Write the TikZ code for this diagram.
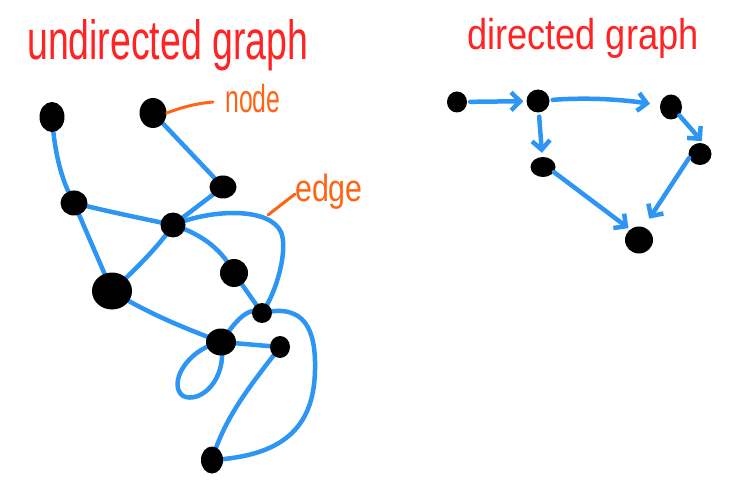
\documentclass[tikz,border=0pt]{standalone}
\usepackage{graphicx}
\usepackage{fontspec}
\setmainfont{Liberation Sans}
\usetikzlibrary{shapes.geometric,arrows.meta,backgrounds}
\definecolor{ered}{RGB}{255,35,35}
\definecolor{eorange}{RGB}{255,100,20}
\definecolor{eblue}{RGB}{45,150,245}
\begin{document}
\begin{tikzpicture}[x=1pt,y=-1pt,
  dot/.style={ellipse,fill=black,inner sep=0pt},
  edgeline/.style={draw=eblue,line width=4.5pt,line cap=round,line join=round},
  arc/.style={edgeline,-{Straight Barb[length=9pt,width=18pt]}},
  callout/.style={draw=eorange,line width=3pt,line cap=round},
  titletext/.style={text=ered,anchor=base west,inner sep=0pt,font=\fontsize{48}{48}\selectfont},
  lbl/.style={text=eorange,anchor=base west,inner sep=0pt}]
\useasboundingbox (0,0) rectangle (737,484);

% titles and labels
\node[titletext] (t1) at (27,60) {\scalebox{0.78}[1.15]{undirected graph}};
\node[titletext,font=\fontsize{38.5}{38.5}\selectfont] (t2) at (467,50) {\scalebox{0.94}[1.12]{directed graph}};
\node[lbl,font=\fontsize{34}{34}\selectfont] (nodelbl) at (225,113) {\scalebox{0.73}[1.15]{node}};
\node[lbl,font=\fontsize{33}{33}\selectfont] (edgelbl) at (295,202) {\scalebox{0.92}[1.15]{edge}};

% undirected graph nodes
\node[dot,minimum width=25pt,minimum height=30pt] (A) at (52,117) {};
\node[dot,minimum width=27pt,minimum height=30pt] (B) at (153,113) {};
\node[dot,minimum width=27pt,minimum height=23pt] (C) at (223,187) {};
\node[dot,minimum width=27pt,minimum height=25pt] (D) at (74,203) {};
\node[dot,minimum width=25pt,minimum height=25pt] (E) at (173,225) {};
\node[dot,minimum width=40pt,minimum height=37pt] (F) at (112,291) {};
\node[dot,minimum width=28pt,minimum height=28pt] (G) at (234,273) {};
\node[dot,minimum width=20pt,minimum height=20pt] (H) at (262,313) {};
\node[dot,minimum width=30pt,minimum height=27pt] (I) at (221,342) {};
\node[dot,minimum width=20pt,minimum height=22pt] (J) at (280,347) {};
\node[dot,minimum width=22pt,minimum height=27pt] (K) at (212,460) {};

% directed graph nodes
\node[dot,minimum width=20pt,minimum height=21pt] (dA) at (457,102) {};
\node[dot,minimum width=23pt,minimum height=23pt] (dB) at (538,101) {};
\node[dot,minimum width=22pt,minimum height=25pt] (dC) at (671,107) {};
\node[dot,minimum width=23pt,minimum height=22pt] (dD) at (700,154) {};
\node[dot,minimum width=25pt,minimum height=20pt] (dE) at (543,167) {};
\node[dot,minimum width=28pt,minimum height=27pt] (dF) at (639,240) {};

% callouts
\coordinate (nodetip) at (213,102);
\coordinate (edgefoot) at (268,215);
\coordinate (edgetip) at (295,194);
\draw[callout] (B.east) .. controls (185,106) and (200,103) .. (nodetip);
\draw[callout] (edgefoot) -- (edgetip);

% undirected edges (behind nodes)
\begin{scope}[on background layer]
\fill[white] (0,0) rectangle (737,484);
\draw[edgeline] (A.center) .. controls (55,160) and (64,185) .. (D.center);
\draw[edgeline] (B.center) -- (C.center);
\draw[edgeline] (C.center) -- (E.center);
\draw[edgeline] (D.center) .. controls (110,212) and (140,218) .. (E.center);
\draw[edgeline] (D.center) -- (F.center);
\draw[edgeline] (E.center) .. controls (160,245) and (135,270) .. (F.center);
\draw[edgeline] (E.center) .. controls (195,232) and (220,245) .. (G.center);
\draw[edgeline] (E.center) .. controls (215,208) and (270,208) .. (281,232)
                 .. controls (288,248) and (278,290) .. (H.center);
\draw[edgeline] (G.center) -- (H.center);
\draw[edgeline] (F.center) .. controls (150,315) and (190,330) .. (I.center);
\draw[edgeline] (I.center) .. controls (235,322) and (248,305) .. (H.center);
\draw[edgeline] (I.center) -- (J.center);
\draw[edgeline] (I.center) .. controls (185,350) and (168,385) .. (183,396)
                 .. controls (200,404) and (228,380) .. (I.center);
\draw[edgeline] (J.center) .. controls (255,380) and (225,415) .. (K.center);
\draw[edgeline] (H.center) .. controls (305,303) and (316,330) .. (315,370)
                 .. controls (314,430) and (280,456) .. (K.center);
\end{scope}

% directed edges
\draw[arc,shorten <=3pt,shorten >=3pt] (dA) -- (dB);
\draw[arc,shorten <=3pt,shorten >=10pt] (dB) .. controls (590,97) and (625,100) .. (dC);
\draw[arc,shorten >=3pt] (dC.-45) -- (dD.70);
\draw[arc,shorten <=4pt,shorten >=4pt] (dB) -- (dE);
\draw[arc,shorten >=2pt] (dE.-25) -- (dF.130);
\draw[arc,shorten >=10pt] (dD.200) -- (dF.70);
\end{tikzpicture}
\end{document}
